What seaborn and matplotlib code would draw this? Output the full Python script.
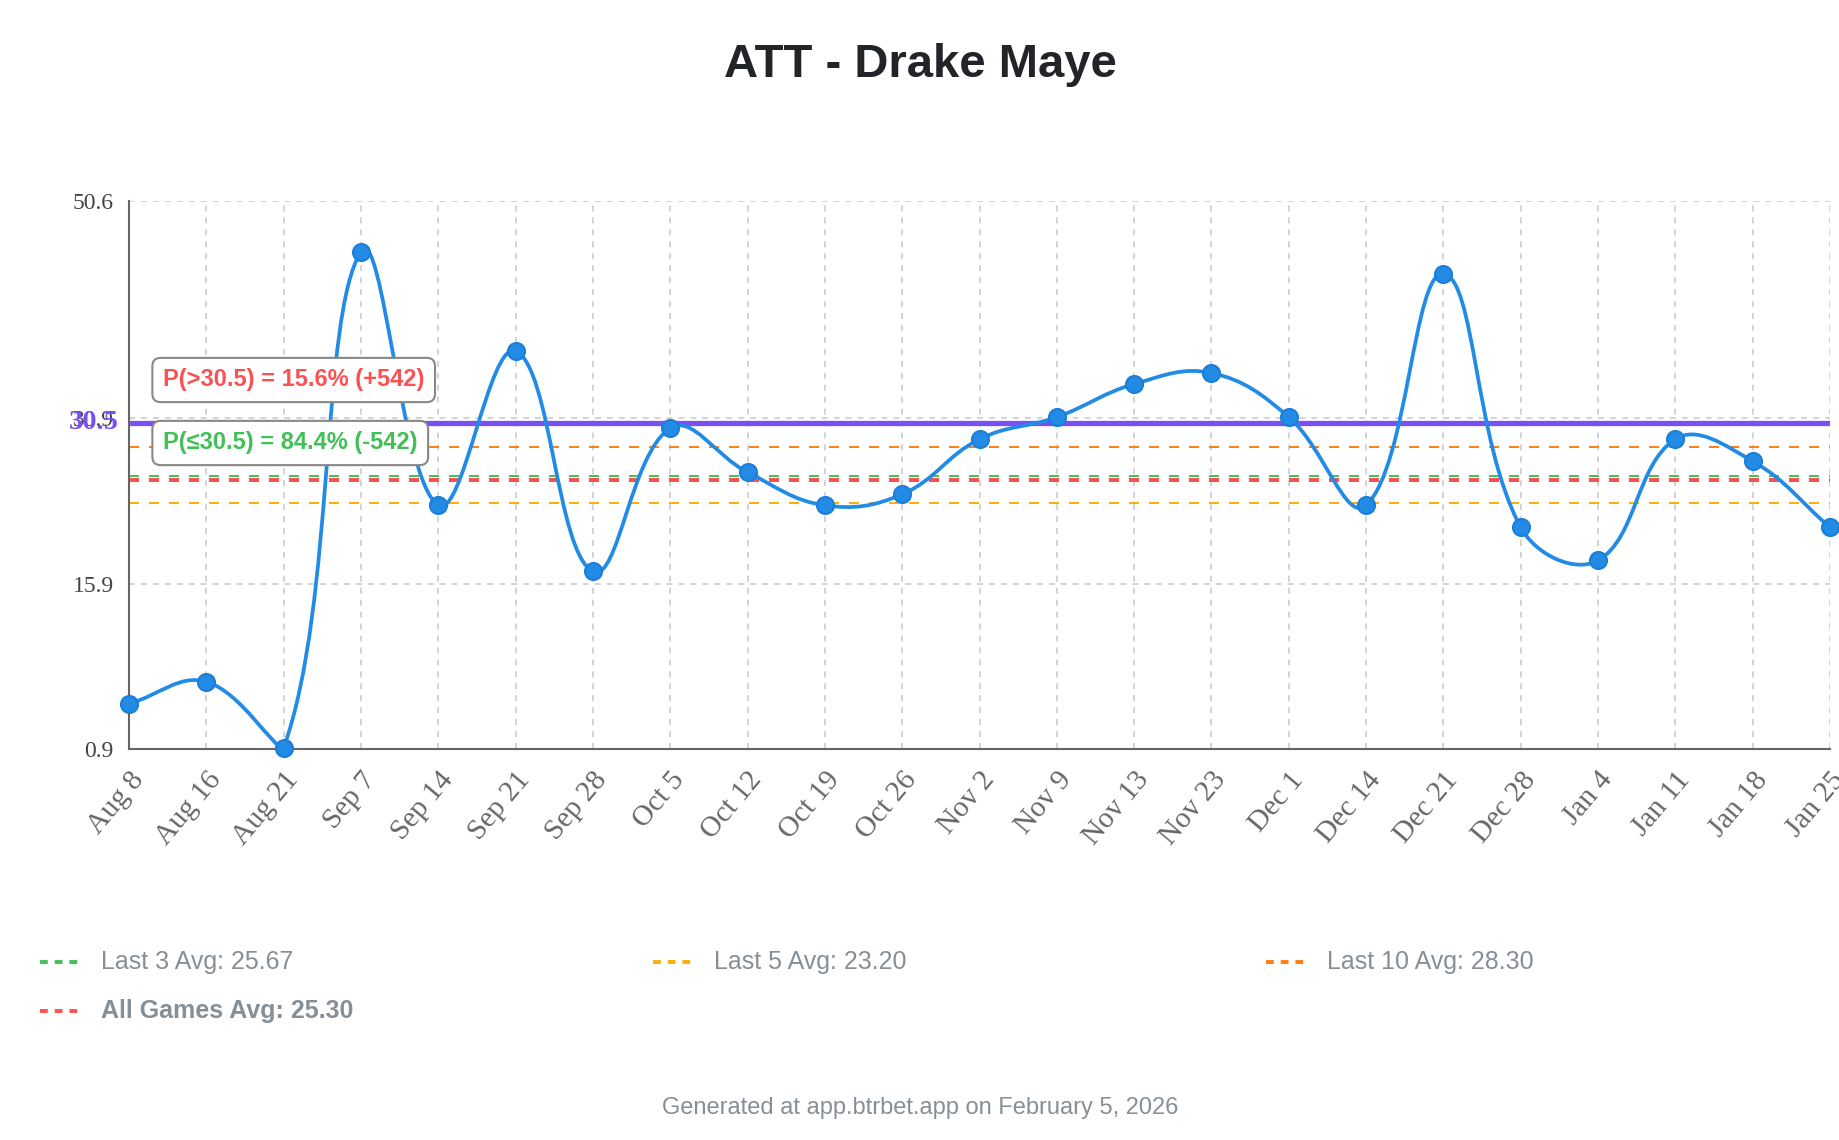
import numpy as np
import pandas as pd
import matplotlib
matplotlib.use("Agg")
import matplotlib.pyplot as plt
import seaborn as sns
from matplotlib.path import Path
from matplotlib.patches import PathPatch
from matplotlib.lines import Line2D

# ---------------- data ----------------
dates = ["Aug 8", "Aug 16", "Aug 21", "Sep 7", "Sep 14", "Sep 21", "Sep 28",
         "Oct 5", "Oct 12", "Oct 19", "Oct 26", "Nov 2", "Nov 9", "Nov 13",
         "Nov 23", "Dec 1", "Dec 14", "Dec 21", "Dec 28", "Jan 4", "Jan 11",
         "Jan 18", "Jan 25"]
att = [5, 7, 1, 46, 23, 37, 17, 30, 26, 23, 24, 29, 31, 34, 35, 31, 23, 44,
       21, 18, 29, 27, 21]
prop_line = 30.5
y_ticks = [0.9, 15.9, 30.9, 50.6]
y_min, y_max = 0.9, 50.6

avg_labels = ["Last 3 Avg: 25.67", "Last 5 Avg: 23.20", "Last 10 Avg: 28.30",
              "All Games Avg: 25.30"]
avg_values = [25.67, 23.20, 28.30, 25.30]
avg_colors = ["#40c057", "#fab005", "#fd7e14", "#fa5252"]

title = "ATT - Drake Maye"
over_text = "P(>30.5) = 15.6% (+542)"
under_text = "P(\u226430.5) = 84.4% (-542)"
footer = "Generated at app.btrbet.app on February 5, 2026"

# ---------------- style ----------------
sns.set_style("white")
plt.rcParams["font.family"] = ["Liberation Sans", "DejaVu Sans"]
plt.rcParams["lines.scale_dashes"] = False

W, H = 1840, 1140
fig = plt.figure(figsize=(W / 100, H / 100), dpi=100)
ax_l, ax_r, ax_t, ax_b = 129, 1830, 201, 749
ax = fig.add_axes([ax_l / W, 1 - ax_b / H, (ax_r - ax_l) / W, (ax_b - ax_t) / H])

n = len(att)
xs = np.arange(n)
df = pd.DataFrame({"idx": xs, "att": att, "date": dates})

ax.set_xlim(0, n - 1)
ax.set_ylim(y_min, y_max)

# grid
ax.grid(True, color="#cccccc", linestyle=(0, (4.3, 4.3)), linewidth=1.2, zorder=0)
ax.set_axisbelow(True)

# average lines
for v, c, lab in zip(avg_values, avg_colors, avg_labels):
    lw = 2.9 if lab.startswith("All") else 1.4
    ax.axhline(v, color=c, lw=lw, linestyle=(0, (7.2, 7.2)), zorder=2)

# prop line
ax.axhline(prop_line, color="#7950f2", lw=3.8, zorder=3)
ax.text(-0.006, prop_line, f"{prop_line}", transform=ax.get_yaxis_transform(),
        ha="right", va="center", color="#7950f2", fontsize=20.5, fontweight="bold",
        family="Liberation Serif", zorder=6, clip_on=False)

# smooth curve (Chart.js style spline, tension 0.4)
def spline_path(x, y, sx, sy, t=0.4):
    px = np.asarray(x, float) * sx
    py = np.asarray(y, float) * sy
    m = len(px)
    cpp = np.zeros((m, 2))
    cpn = np.zeros((m, 2))
    for i in range(m):
        p0 = (px[i - 1], py[i - 1]) if i > 0 else (px[i], py[i])
        p2 = (px[i + 1], py[i + 1]) if i < m - 1 else (px[i], py[i])
        d01 = np.hypot(px[i] - p0[0], py[i] - p0[1])
        d12 = np.hypot(p2[0] - px[i], p2[1] - py[i])
        tot = d01 + d12
        s01 = d01 / tot if tot else 0
        s12 = d12 / tot if tot else 0
        fa, fb = t * s01, t * s12
        cpp[i] = (px[i] - fa * (p2[0] - p0[0]), py[i] - fa * (p2[1] - p0[1]))
        cpn[i] = (px[i] + fb * (p2[0] - p0[0]), py[i] + fb * (p2[1] - p0[1]))
    cpp[:, 0] /= sx; cpn[:, 0] /= sx
    cpp[:, 1] /= sy; cpn[:, 1] /= sy
    for a in (cpp, cpn):
        a[:, 0] = np.clip(a[:, 0], x[0], x[-1])
        a[:, 1] = np.clip(a[:, 1], y_min, y_max)
    verts = [(x[0], y[0])]
    codes = [Path.MOVETO]
    for i in range(m - 1):
        verts += [tuple(cpn[i]), tuple(cpp[i + 1]), (x[i + 1], y[i + 1])]
        codes += [Path.CURVE4] * 3
    return Path(verts, codes)

sx = (ax_r - ax_l) / (n - 1)
sy = (ax_b - ax_t) / (y_max - y_min)
path = spline_path(xs, att, sx, sy)
ax.add_patch(PathPatch(path, facecolor="none", edgecolor="#228be6", lw=2.7,
                       zorder=4, capstyle="round", joinstyle="round"))

sns.scatterplot(data=df, x="idx", y="att", s=150, color="#228be6",
                edgecolor="#1c7ed6", linewidth=1.5, zorder=5, clip_on=False,
                ax=ax, legend=False)

ax.set_xlabel("")
ax.set_ylabel("")
ax.set_xticks(xs)
ax.set_xticklabels(dates, rotation=50, ha="right", va="top",
                   rotation_mode="anchor", family="Liberation Serif",
                   fontsize=21, color="#666666")
ax.set_yticks(y_ticks)
ax.set_yticklabels([f"{v}" for v in y_ticks], family="Liberation Serif",
                   fontsize=17, color="#444444")
ax.tick_params(axis="both", length=8, width=1.5, color="#666666", pad=3)
ax.tick_params(axis="x", pad=5)
for s in ["top", "right"]:
    ax.spines[s].set_visible(False)
for s in ["left", "bottom"]:
    ax.spines[s].set_color("#666666")
    ax.spines[s].set_linewidth(1.5)

# title
fig.text(0.5, 1 - 65 / H, title, ha="center", va="center", fontsize=34,
         fontweight="bold", color="#212529")

# probability boxes
box = dict(boxstyle="round,pad=0.45,rounding_size=0.35", facecolor="white",
           edgecolor="#888888", linewidth=1.5)
fig.text(163 / W, 1 - 380 / H, over_text, ha="left", va="center", fontsize=17,
         fontweight="bold", color="#fa5252", bbox=box, zorder=10)
fig.text(163 / W, 1 - 443 / H, under_text, ha="left", va="center", fontsize=17,
         fontweight="bold", color="#40c057", bbox=box, zorder=10,
         family=["Liberation Sans", "DejaVu Sans"])

# legend (manual, below chart)
leg_pos = [(40, 962), (653, 962), (1266, 962), (40, 1011)]
for (lx, ly), lab, c in zip(leg_pos, avg_labels, avg_colors):
    fig.add_artist(Line2D([lx / W, (lx + 40) / W], [1 - ly / H, 1 - ly / H],
                          transform=fig.transFigure, color=c, lw=2.8,
                          linestyle=(0, (5.6, 5.0))))
    fig.text((lx + 61) / W, 1 - ly / H, lab, ha="left", va="center",
             fontsize=18, color="#868e96",
             fontweight="bold" if lab.startswith("All") else "normal")

fig.text(0.5, 1 - 1108 / H, footer, ha="center", va="center", fontsize=17,
         color="#868e96")

fig.savefig("out.png", dpi=100)
